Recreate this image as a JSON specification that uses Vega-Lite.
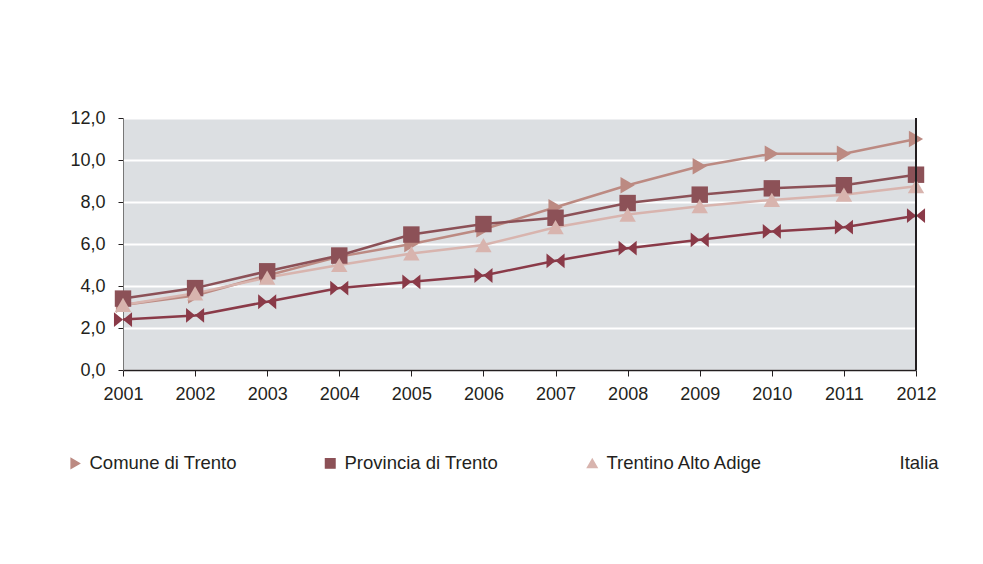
{
  "$schema": "https://vega.github.io/schema/vega-lite/v6.json",
  "width": 793,
  "height": 252,
  "autosize": "none",
  "padding": {"left": 123, "top": 118, "right": 67, "bottom": 194},
  "background": "white",
  "config": {
    "font": "Liberation Sans",
    "view": {"fill": "#DCDFE2", "stroke": null},
    "axis": {"labelFont": "Liberation Sans", "labelColor": "#231F20", "labelFontSize": 18}
  },
  "data": {
    "values": [
      {"year": 2001, "series": "Comune di Trento", "value": 3.1},
      {"year": 2002, "series": "Comune di Trento", "value": 3.55},
      {"year": 2003, "series": "Comune di Trento", "value": 4.5},
      {"year": 2004, "series": "Comune di Trento", "value": 5.4},
      {"year": 2005, "series": "Comune di Trento", "value": 6.0},
      {"year": 2006, "series": "Comune di Trento", "value": 6.7},
      {"year": 2007, "series": "Comune di Trento", "value": 7.75},
      {"year": 2008, "series": "Comune di Trento", "value": 8.8},
      {"year": 2009, "series": "Comune di Trento", "value": 9.7},
      {"year": 2010, "series": "Comune di Trento", "value": 10.3},
      {"year": 2011, "series": "Comune di Trento", "value": 10.3},
      {"year": 2012, "series": "Comune di Trento", "value": 11.0},
      {"year": 2001, "series": "Provincia di Trento", "value": 3.4},
      {"year": 2002, "series": "Provincia di Trento", "value": 3.9},
      {"year": 2003, "series": "Provincia di Trento", "value": 4.7},
      {"year": 2004, "series": "Provincia di Trento", "value": 5.45},
      {"year": 2005, "series": "Provincia di Trento", "value": 6.45},
      {"year": 2006, "series": "Provincia di Trento", "value": 6.95},
      {"year": 2007, "series": "Provincia di Trento", "value": 7.25},
      {"year": 2008, "series": "Provincia di Trento", "value": 7.95},
      {"year": 2009, "series": "Provincia di Trento", "value": 8.35},
      {"year": 2010, "series": "Provincia di Trento", "value": 8.65},
      {"year": 2011, "series": "Provincia di Trento", "value": 8.8},
      {"year": 2012, "series": "Provincia di Trento", "value": 9.3},
      {"year": 2001, "series": "Trentino Alto Adige", "value": 3.1},
      {"year": 2002, "series": "Trentino Alto Adige", "value": 3.65},
      {"year": 2003, "series": "Trentino Alto Adige", "value": 4.4},
      {"year": 2004, "series": "Trentino Alto Adige", "value": 5.0},
      {"year": 2005, "series": "Trentino Alto Adige", "value": 5.55},
      {"year": 2006, "series": "Trentino Alto Adige", "value": 5.95},
      {"year": 2007, "series": "Trentino Alto Adige", "value": 6.8},
      {"year": 2008, "series": "Trentino Alto Adige", "value": 7.4},
      {"year": 2009, "series": "Trentino Alto Adige", "value": 7.8},
      {"year": 2010, "series": "Trentino Alto Adige", "value": 8.1},
      {"year": 2011, "series": "Trentino Alto Adige", "value": 8.35},
      {"year": 2012, "series": "Trentino Alto Adige", "value": 8.75},
      {"year": 2001, "series": "Italia", "value": 2.4},
      {"year": 2002, "series": "Italia", "value": 2.6},
      {"year": 2003, "series": "Italia", "value": 3.25},
      {"year": 2004, "series": "Italia", "value": 3.9},
      {"year": 2005, "series": "Italia", "value": 4.2},
      {"year": 2006, "series": "Italia", "value": 4.5},
      {"year": 2007, "series": "Italia", "value": 5.2},
      {"year": 2008, "series": "Italia", "value": 5.8},
      {"year": 2009, "series": "Italia", "value": 6.2},
      {"year": 2010, "series": "Italia", "value": 6.6},
      {"year": 2011, "series": "Italia", "value": 6.8},
      {"year": 2012, "series": "Italia", "value": 7.35}
    ]
  },
  "encoding": {
    "x": {
      "field": "year",
      "type": "quantitative",
      "scale": {"domain": [2001, 2012], "nice": false, "zero": false},
      "axis": {
        "title": null,
        "values": [2001, 2002, 2003, 2004, 2005, 2006, 2007, 2008, 2009, 2010, 2011, 2012],
        "format": "d",
        "grid": false,
        "domainColor": "#231F20",
        "domainWidth": 1.5,
        "tickColor": "#231F20",
        "tickSize": 6,
        "labelPadding": 9,
        "labelFlush": false
      }
    },
    "y": {
      "field": "value",
      "type": "quantitative",
      "scale": {"domain": [0, 12], "nice": false},
      "axis": {
        "title": null,
        "values": [0, 2, 4, 6, 8, 10, 12],
        "labelExpr": "replace(format(datum.value, '.1f'), '.', ',')",
        "grid": true,
        "gridColor": "white",
        "gridWidth": 2,
        "domainColor": "#777777",
        "domainWidth": 1,
        "tickColor": "#231F20",
        "tickSize": 5,
        "labelPadding": 13
      }
    },
    "color": {
      "field": "series",
      "type": "nominal",
      "sort": ["Comune di Trento", "Provincia di Trento", "Trentino Alto Adige", "Italia"],
      "scale": {
        "domain": ["Comune di Trento", "Provincia di Trento", "Trentino Alto Adige", "Italia"],
        "range": ["#BC8A82", "#8C5157", "#D8B4AE", "#8A3A48"]
      },
      "legend": {
        "title": null,
        "orient": "none",
        "legendX": -57,
        "legendY": 336,
        "direction": "horizontal",
        "columns": 4,
        "columnPadding": 84,
        "labelFontSize": 18.5,
        "labelFont": "Liberation Sans",
        "labelColor": "#231F20",
        "labelOffset": 5,
        "symbolSize": 90,
        "encode": {
          "symbols": {
            "update": {
              "opacity": {"signal": "datum.value === 'Italia' ? 0 : 1"}
            }
          },
          "labels": {
            "update": {
              "dx": {"signal": "datum.value === 'Italia' ? 28 : 0"}
            }
          }
        }
      }
    }
  },
  "layer": [
    {
      "mark": {"type": "line", "strokeWidth": 2.5},
      "encoding": {"detail": {"field": "series"}}
    },
    {
      "mark": {"type": "point", "filled": true, "opacity": 1, "size": 270},
      "encoding": {
        "shape": {
          "field": "series",
          "type": "nominal",
          "sort": ["Comune di Trento", "Provincia di Trento", "Trentino Alto Adige", "Italia"],
          "scale": {
            "domain": ["Comune di Trento", "Provincia di Trento", "Trentino Alto Adige", "Italia"],
            "range": ["triangle-right", "square", "triangle-up", "M-1.1,-0.9L1.1,0.9L1.1,-0.9L-1.1,0.9Z"]
          },
          "legend": null
        }
      }
    },
    {
      "mark": {"type": "rule", "color": "#231F20", "strokeWidth": 1.5},
      "encoding": {
        "x": {"datum": 2012},
        "y": {"datum": 0},
        "y2": {"datum": 12},
        "color": {"value": "#231F20"}
      }
    }
  ]
}
